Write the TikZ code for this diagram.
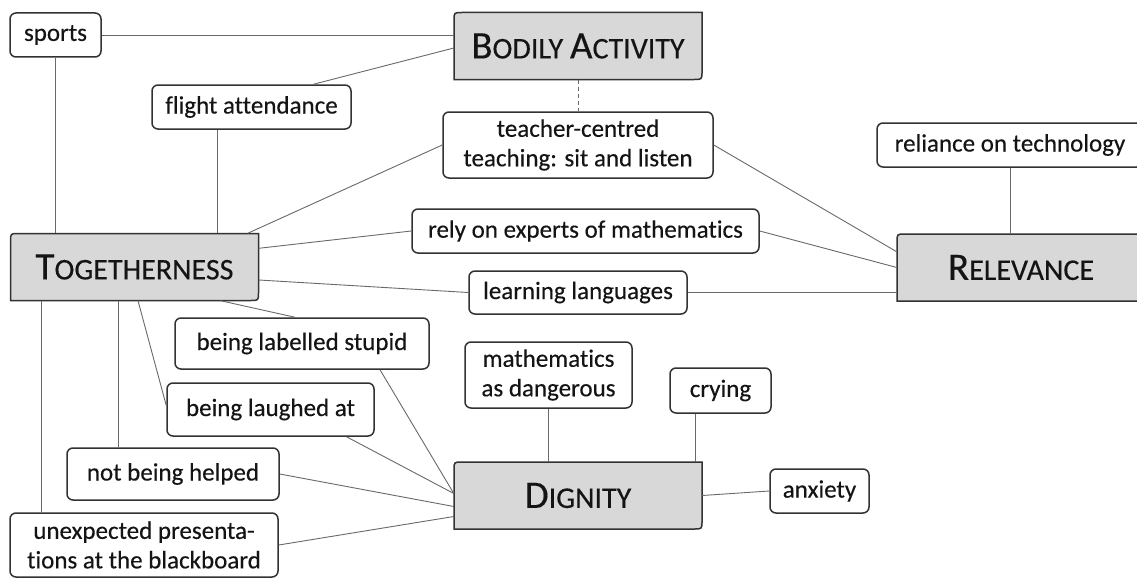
\documentclass[tikz,border=0pt]{standalone}
\usepackage{fontspec}
\setmainfont{Carlito}[Ligatures=NoCommon, FakeBold=0.3]
\definecolor{boxline}{RGB}{50,50,50}
\definecolor{boxfill}{RGB}{216,216,216}
\definecolor{connc}{RGB}{105,105,105}
\definecolor{txt}{RGB}{20,20,20}
\newcommand{\capsA}[2]{{\fontsize{39}{39}\selectfont #1}#2}
\newcommand{\bigframe}[2]{%
  \path[bframe] (#1-124,#2+33.5) -- (#1-124,#2-25.5) .. controls (#1-124,#2-33.5) .. (#1-116,#2-33.5)
    -- (#1+124,#2-33.5) -- (#1+124,#2+25.5) .. controls (#1+124,#2+33.5) .. (#1+116,#2+33.5) -- cycle;}
\tikzset{
  sbox/.style={draw=boxline, line width=1.5pt, rounded corners=6pt, fill=white, inner sep=0pt,
    align=center, font=\fontsize{25}{29.5}\selectfont, text=txt},
  bframe/.style={draw=boxline, line width=1.5pt, fill=boxfill},
  btext/.style={inner sep=0pt, minimum width=248pt, minimum height=67pt, text=txt,
    font=\fontsize{30}{30}\selectfont},
  conn/.style={draw=connc, line width=0.9pt},
}
\begin{document}
\begin{tikzpicture}[x=1pt,y=-1pt]
\useasboundingbox (0,0) rectangle (1137,578);
\clip (0,0) rectangle (1137,578);
\fill[white] (0,0) rectangle (1137,578);

% main concepts
\bigframe{578}{46}
\node[btext] (bodily) at (578,46) {\capsA{B}{ODILY} \capsA{A}{CTIVITY}};
\bigframe{134.5}{267}
\node[btext] (toget) at (134.5,267) {\capsA{T}{OGETHERNESS}};
\bigframe{1021}{267.5}
\node[btext] (relev) at (1021,267.5) {\capsA{R}{ELEVANCE}};
\bigframe{578}{495.5}
\node[btext] (dignity) at (578,495.5) {\capsA{D}{IGNITY}};

% small boxes
\node[sbox, minimum width=91pt, minimum height=44pt] (sports) at (55.5,35) {sports};
\node[sbox, minimum width=199pt, minimum height=44pt] (flight) at (251.5,107) {flight attendance};
\node[sbox, minimum width=270pt, minimum height=66pt] (teacher) at (578,145) {teacher-centred\\teaching: sit and listen};
\node[sbox, minimum width=266pt, minimum height=44pt] (reliance) at (1010,145) {reliance on technology};
\node[sbox, minimum width=347pt, minimum height=44pt] (rely) at (585.5,231) {rely on experts of mathematics};
\node[sbox, minimum width=218pt, minimum height=43pt] (learning) at (578,292.5) {learning languages};
\node[sbox, minimum width=254pt, minimum height=51pt] (labelled) at (302,343.5) {being labelled stupid};
\node[sbox, minimum width=207pt, minimum height=53pt] (laughed) at (270.5,409.5) {being laughed at};
\node[sbox, minimum width=212pt, minimum height=52pt] (helped) at (173,474) {not being helped};
\node[sbox, minimum width=268pt, minimum height=64pt] (unexpected) at (144,545) {unexpected presenta-\\tions at the blackboard};
\node[sbox, minimum width=167pt, minimum height=66pt] (math) at (548.5,375) {mathematics\\as dangerous};
\node[sbox, minimum width=101pt, minimum height=45pt] (crying) at (720.5,390.5) {crying};
\node[sbox, minimum width=99pt, minimum height=44pt] (anxiety) at (819.5,491) {anxiety};

% connectors
\draw[conn] (sports.east) -- (sports.east -| bodily.west);
\draw[conn] ([xshift=62pt]flight.north) -- ([yshift=-2pt]bodily.west);
\draw[conn] (sports.south) -- (sports.south |- toget.north);
\draw[conn] ([xshift=-34pt]flight.south) coordinate (fa) -- (fa |- toget.north);
\draw[conn, dash pattern=on 4pt off 3pt] (bodily.south) -- (teacher.north);
\draw[conn] ([xshift=-11pt]toget.north east) -- (teacher.west);
\draw[conn] (teacher.east) -- ([yshift=-18pt]relev.north west);
\draw[conn] ([yshift=-15pt]toget.north east) -- (rely.west);
\draw[conn] (rely.east) -- (relev.west);
\draw[conn] ([yshift=-13pt]toget.east) -- (learning.west);
\draw[conn] (learning.east) -- (learning.east -| relev.west);
\draw[conn] (reliance.south) -- (reliance.south |- relev.north);
\draw[conn] ([xshift=86pt]toget.south) -- ([xshift=-7pt]labelled.north);
\draw[conn] ([xshift=3.5pt]toget.south) -- ([yshift=4pt]laughed.west);
\draw[conn] ([xshift=-16.5pt]toget.south) coordinate (t1) -- (t1 |- helped.north);
\draw[conn] ([xshift=-93.5pt]toget.south) coordinate (t2) -- (t2 |- unexpected.north);
\draw[conn] ([xshift=78pt]labelled.south) -- ([yshift=2pt]dignity.west);
\draw[conn] ([xshift=76pt]laughed.south) -- ([yshift=2pt]dignity.west);
\draw[conn] (helped.east) -- ([yshift=-11pt]dignity.west);
\draw[conn] (unexpected.east) -- ([yshift=-21pt]dignity.west);
\draw[conn] (math.south) -- (math.south |- dignity.north);
\draw[conn] ([xshift=-25pt]crying.south) coordinate (c1) -- (c1 |- dignity.north);
\draw[conn] (dignity.east) -- (anxiety.west);
\end{tikzpicture}
\end{document}
